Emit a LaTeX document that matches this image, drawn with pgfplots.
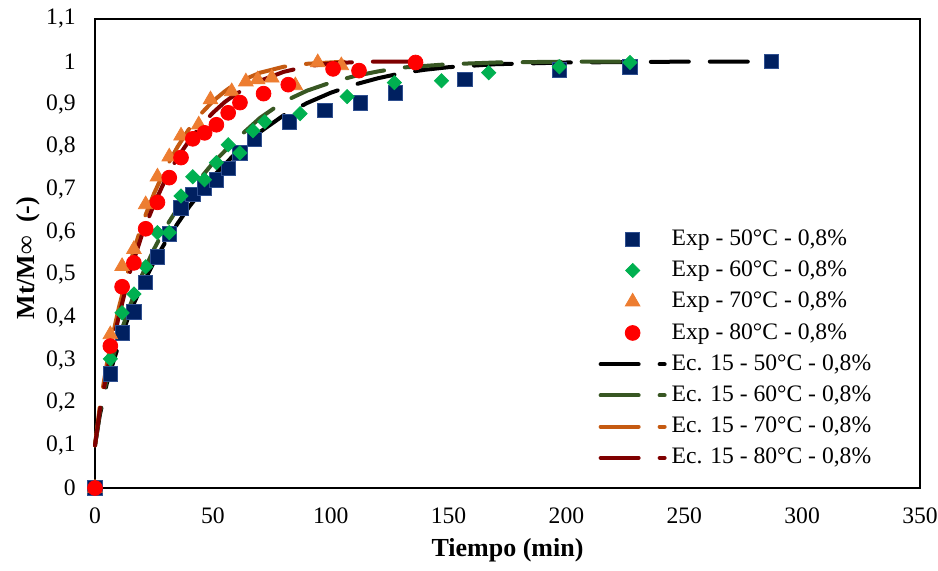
\documentclass[border=0pt]{standalone}
\usepackage{pgfplots}
\pgfplotsset{compat=1.18}
\usepackage{fontspec}
\setmainfont{Liberation Serif}
\definecolor{cSq}{HTML}{002060}
\definecolor{cSqB}{HTML}{2F4F8F}
\definecolor{cDi}{HTML}{00B050}
\definecolor{cTr}{HTML}{ED7D31}
\definecolor{cCi}{HTML}{FF0000}
\definecolor{lBk}{HTML}{000000}
\definecolor{lGr}{HTML}{385723}
\definecolor{lOr}{HTML}{C55A11}
\definecolor{lRd}{HTML}{7F0000}
\pgfplotsset{
  modelline/.style={line width=2pt, line cap=round, dash pattern=on 19pt off 10.5pt, mark=none},
  lineleg/.style={legend image code/.code={\draw[##1] (1pt,0pt) -- (33pt,0pt);}},
  markleg/.style={legend image code/.code={\draw[##1] plot coordinates {(17pt,0pt)};}},
}
\pgfplotstableread{
t v
0 0
6.5 0.268
11.5 0.364
16.5 0.413
21.5 0.482
26.5 0.542
31.5 0.596
36.5 0.657
41.5 0.688
46.5 0.704
51.5 0.723
56.5 0.750
61.5 0.786
67.5 0.817
82.5 0.859
97.5 0.885
112.5 0.903
127.5 0.927
157 0.958
197 0.981
227 0.988
287 1.0
}\expA
\pgfplotstableread{
t v
0 0
6.5 0.303
11.5 0.411
16.5 0.455
21.5 0.519
26.5 0.599
31.5 0.599
36.5 0.685
41.5 0.730
46.5 0.723
51.5 0.763
56.5 0.805
61.5 0.786
67 0.838
72 0.859
87 0.878
107 0.918
127 0.951
147 0.955
167 0.974
197 0.988
227 0.998
}\expB
\pgfplotstableread{
t v
0 0
6.5 0.36
11.5 0.52
16.5 0.56
21.5 0.665
26.5 0.73
31.5 0.777
36.5 0.826
44 0.852
49 0.911
58 0.93
64 0.953
69 0.958
75 0.962
85 0.944
94.5 0.998
104.5 0.991
}\expC
\pgfplotstableread{
t v
0 0
6.5 0.333
11.5 0.472
16.5 0.528
21.5 0.608
26.5 0.670
31.5 0.728
36.5 0.775
41.5 0.819
46.5 0.833
51.5 0.852
56.5 0.880
61.5 0.904
71.5 0.925
82 0.946
101 0.983
112 0.979
136 0.998
}\expD
\pgfplotstableread{
t v
0 0.10
2 0.17
5 0.245
8 0.30
10 0.335
15 0.415
20 0.475
25 0.53
30 0.578
35 0.62
40 0.66
50 0.73
60 0.787
70 0.835
80 0.874
90 0.903
100 0.927
110 0.946
120 0.961
130 0.973
140 0.981
150 0.987
170 0.994
200 0.998
250 1.0
287 1.0
}\modA
\pgfplotstableread{
t v
0 0.10
2 0.175
5 0.255
8 0.315
10 0.35
15 0.43
20 0.50
25 0.56
30 0.612
35 0.655
40 0.695
50 0.762
60 0.818
70 0.868
80 0.906
90 0.932
100 0.951
110 0.966
120 0.977
130 0.986
150 0.994
170 0.998
200 1.0
227 1.0
}\modB
\pgfplotstableread{
t v
0 0.10
2 0.19
5 0.29
8 0.37
10 0.42
15 0.53
20 0.62
25 0.69
30 0.75
35 0.80
40 0.843
45 0.878
50 0.907
55 0.93
60 0.95
70 0.974
80 0.988
90 0.995
106 1.0
}\modC
\pgfplotstableread{
t v
0 0.10
2 0.18
5 0.27
8 0.35
10 0.40
15 0.51
20 0.595
25 0.665
30 0.725
35 0.775
40 0.815
45 0.85
50 0.88
55 0.905
60 0.925
70 0.955
80 0.976
90 0.989
100 0.996
115 1.0
136 1.0
}\modD
\begin{document}
\fontsize{11.8}{14}\selectfont
\begin{tikzpicture}
\begin{axis}[
  width=412.5pt, height=234.5pt, scale only axis,
  xmin=0, xmax=350, ymin=0, ymax=1.1,
  xtick={0,50,100,150,200,250,300,350},
  ytick={0,0.1,0.2,0.3,0.4,0.5,0.6,0.7,0.8,0.9,1,1.1},
  major tick length=0pt,
  axis line style={line width=0.8pt},
  clip=false,
  tick label style={font=\fontsize{11.8}{14}\selectfont},
  /pgf/number format/assume math mode=true,
  /pgf/number format/use comma,
  yticklabel style={xshift=-5.5pt},
  xticklabel style={yshift=-6pt},
  every axis x label/.style={at={(axis description cs:0.5,0)}, anchor=center, yshift=-31pt, font=\fontsize{13}{15}\selectfont\bfseries},
  every axis y label/.style={at={(axis description cs:-0.0812,0.49)}, anchor=center, rotate=90, font=\fontsize{13}{15}\selectfont\bfseries},
  xlabel={Tiempo (min)},
  ylabel={Mt/M∞\ \ (-)},
  legend style={at={(axis description cs:0.61,0.556)}, anchor=north west, draw=none, fill=none, inner sep=0pt, row sep=4pt, column sep=1.5pt, nodes={inner sep=1pt}, font=\fontsize{11.8}{14}\selectfont},
  legend cell align=left,
]
\addplot[modelline, color=lBk, forget plot] table[x=t,y=v] {\modA};
\addplot[modelline, color=lGr, forget plot] table[x=t,y=v] {\modB};
\addplot[modelline, color=lOr, forget plot] table[x=t,y=v] {\modC};
\addplot[modelline, color=lRd, forget plot] table[x=t,y=v] {\modD};
\addplot[only marks, markleg, mark=square*, mark size=3.6pt, mark options={fill=cSq, draw=cSqB, line width=0.4pt}] table[x=t,y=v] {\expA};
\addlegendentry{Exp - 50°C - 0,8\%}
\addplot[only marks, markleg, mark=square*, mark size=2.5pt, mark options={rotate=45, fill=cDi, draw=cDi}] table[x=t,y=v] {\expB};
\addlegendentry{Exp - 60°C - 0,8\%}
\addplot[only marks, markleg, mark=triangle*, mark size=4.2pt, mark options={fill=cTr, draw=cTr}] table[x=t,y=v] {\expC};
\addlegendentry{Exp - 70°C - 0,8\%}
\addplot[only marks, markleg, mark=*, mark size=3.7pt, mark options={fill=cCi, draw=cCi}] table[x=t,y=v] {\expD};
\addlegendentry{Exp - 80°C - 0,8\%}
\addlegendimage{modelline, lineleg, color=lBk}
\addlegendentry{Ec. 15 - 50°C - 0,8\%}
\addlegendimage{modelline, lineleg, color=lGr}
\addlegendentry{Ec. 15 - 60°C - 0,8\%}
\addlegendimage{modelline, lineleg, color=lOr}
\addlegendentry{Ec. 15 - 70°C - 0,8\%}
\addlegendimage{modelline, lineleg, color=lRd}
\addlegendentry{Ec. 15 - 80°C - 0,8\%}
\end{axis}
\pgfresetboundingbox
\path (current axis.south west) ++(-47.5pt,-41pt) rectangle ++(469pt,285pt);
\end{tikzpicture}
\end{document}
